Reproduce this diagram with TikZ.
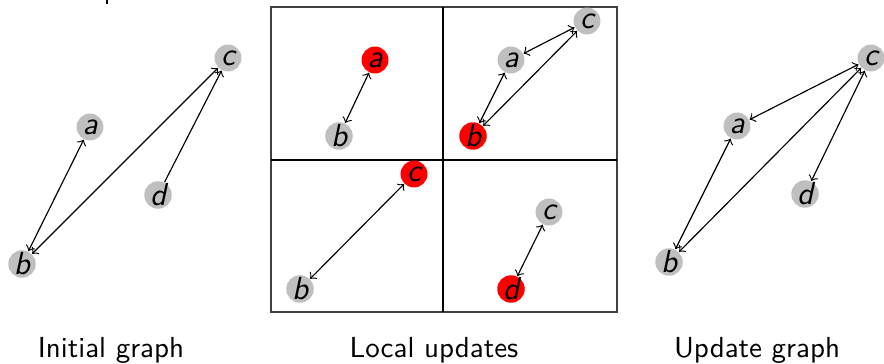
\documentclass[tikz,border=0pt]{standalone}
\usetikzlibrary{arrows}
\begin{document}
\begin{tikzpicture}[x=0.345pt,y=-0.345pt,
  vtx/.style={circle,fill=black!25,minimum size=9.3pt,inner sep=0pt,font=\fontsize{11}{13}\selectfont\sffamily\itshape},
  hot/.style={vtx,fill=red},
  edge/.style={<->,line width=0.4pt},
  oneway/.style={->,line width=0.4pt},
  caption/.style={anchor=base,font=\sffamily,inner sep=0pt},
  frameline/.style={line width=0.5pt,draw=black!75}]
\useasboundingbox (0,0) rectangle (884,364);
% cropped stroke at top edge
\draw[line width=0.6pt] (107,0) -- (107,4);
% ---------- Initial graph ----------
\node[vtx] (c1) at (228,58) {c};
\node[vtx] (a1) at (90,127) {a};
\node[vtx] (d1) at (158,195) {d};
\node[vtx] (b1) at (22,264) {b};
\draw[edge] (a1) -- (b1);
\draw[edge] (b1) -- (c1);
\draw[oneway] (d1) -- (c1);
% ---------- Local updates ----------
\draw[frameline] (271,7) rectangle (617,312);
\draw[line width=0.5pt] (443,7) -- (443,312);
\draw[line width=0.5pt] (271,160) -- (617,160);
% top-left
\node[hot] (aTL) at (375,60) {a};
\node[vtx] (bTL) at (339,136) {b};
\draw[edge] (aTL) -- (bTL);
% top-right
\node[vtx] (cTR) at (587,21) {c};
\node[vtx] (aTR) at (511,60) {a};
\node[hot] (bTR) at (473,136) {b};
\draw[edge] (aTR) -- (cTR);
\draw[edge] (aTR) -- (bTR);
\draw[edge] (bTR) -- (cTR);
% bottom-left
\node[hot] (cBL) at (414,174) {c};
\node[vtx] (bBL) at (300,289) {b};
\draw[edge] (bBL) -- (cBL);
% bottom-right
\node[vtx] (cBR) at (549,212) {c};
\node[hot] (dBR) at (511,289) {d};
\draw[edge] (cBR) -- (dBR);
% ---------- Update graph ----------
\node[vtx] (c3) at (871,58) {c};
\node[vtx] (a3) at (737,126) {a};
\node[vtx] (d3) at (805,194) {d};
\node[vtx] (b3) at (669,262) {b};
\draw[edge] (a3) -- (c3);
\draw[edge] (a3) -- (b3);
\draw[edge] (b3) -- (c3);
\draw[edge] (c3) -- (d3);
% ---------- captions ----------
\node[caption] (t1) at (111,357) {Initial graph};
\node[caption] (t2) at (434,357) {Local updates};
\node[caption] (t3) at (757,357) {Update graph};
\end{tikzpicture}
\end{document}
